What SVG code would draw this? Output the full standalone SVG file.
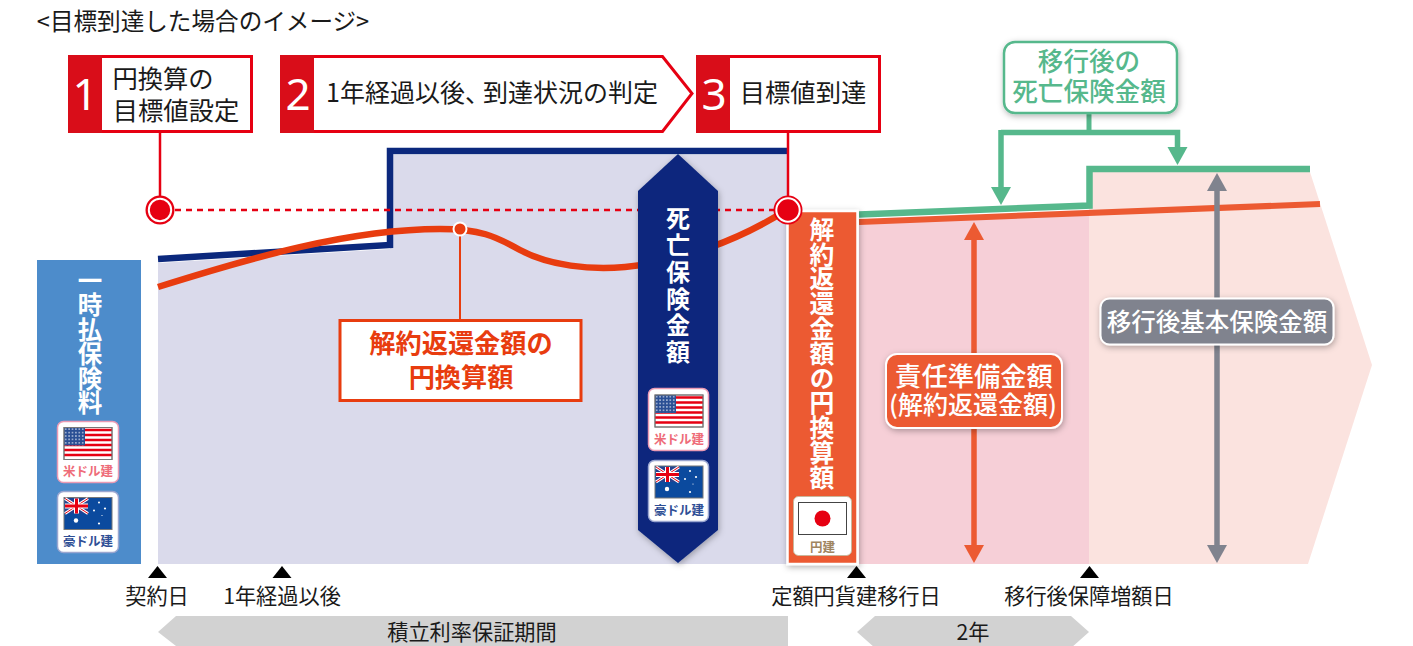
<svg xmlns="http://www.w3.org/2000/svg" width="1413" height="646" viewBox="0 0 1413 646">
<style>
text{font-family:"Noto Sans CJK JP","Noto Sans",sans-serif;fill:#1a1a1a;text-anchor:middle}
.t25{font-size:25.300px}.t21{font-size:21.200px}
.num{font-size:44px;fill:#fff;font-family:"Noto Sans","Noto Sans CJK JP",sans-serif}
.box{fill:#fff;stroke:#e60012;stroke-width:3}
.sq{fill:#d90d19}
.vert{writing-mode:vertical-rl;font-weight:700;fill:#fff;font-size:24.500px}
.card{fill:#fff;stroke-width:1.5}
.cl{font-size:12.500px;font-weight:700}
.tri{fill:#000}
.band{fill:#d2d2d2}
.w{fill:#fff;font-weight:500}
</style>
<defs>
<filter id="sh" x="-20%" y="-20%" width="140%" height="140%"><feDropShadow dx="1" dy="2" stdDeviation="3" flood-color="#000" flood-opacity=".3"/></filter>
<marker id="hG" markerUnits="userSpaceOnUse" markerWidth="20" markerHeight="22" refX="2" refY="11" orient="auto"><path d="M0,1 L18,11 L0,21Z" fill="#56b88c"/></marker>
<marker id="hO" markerUnits="userSpaceOnUse" markerWidth="20" markerHeight="22" refX="2" refY="11" orient="auto"><path d="M0,1 L18,11 L0,21Z" fill="#ec5a32"/></marker>
<marker id="hA" markerUnits="userSpaceOnUse" markerWidth="20" markerHeight="22" refX="2" refY="11" orient="auto"><path d="M0,1 L18,11 L0,21Z" fill="#80838e"/></marker>
<pattern id="st" width="3.4" height="3.4" patternUnits="userSpaceOnUse"><rect width="3.4" height="3.4" fill="#2a4f94"/><circle cx="1.7" cy="1.7" r=".8" fill="#c9d3e6"/></pattern>
<g id="us">
<rect width="48" height="32" fill="#fff" stroke="#777" stroke-width="1"/>
<path d="M0,2.500H48M0,7.500H48M0,12.500H48M0,17.500H48M0,22.500H48M0,27.500H48" stroke="#e60012" stroke-width="2.600"/>
<rect x="0" y="0" width="21" height="18" fill="url(#st)"/>
<rect width="48" height="32" fill="none" stroke="#777" stroke-width="1"/>
</g>
<g id="au">
<rect width="48" height="32" fill="#0b4a9e" stroke="#777" stroke-width="1"/>
<rect x="1" y="1" width="23" height="15" fill="#26418f"/>
<path d="M1,1L24,16M24,1L1,16" stroke="#fff" stroke-width="3"/>
<path d="M1,1L24,16M24,1L1,16" stroke="#e60012" stroke-width="1"/>
<path d="M12.500,1V16M1,8.500H24" stroke="#fff" stroke-width="5"/>
<path d="M12.500,1V16M1,8.500H24" stroke="#e60012" stroke-width="3"/>
<g fill="#fff"><circle cx="12" cy="23" r="2.200"/><circle cx="35" cy="5" r="1"/><circle cx="41" cy="11" r="1.100"/><circle cx="30" cy="13" r="1"/><circle cx="38" cy="18" r=".6"/><circle cx="35" cy="26" r="1.100"/></g>
</g>
</defs>

<text x="203" y="30" style="font-size:23.600px">&lt;目標到達した場合のイメージ&gt;</text>

<g id="areas">
<path d="M158,263 L390,249 L390,155 L788,155 L788,564 L158,564Z" fill="#dadaeb"/>
<path d="M859,222 L1089,212 L1089,564 L859,564Z" fill="#f6cfd7"/>
<path d="M1089,172 L1310,172 L1372,365 L1308,564 L1089,564Z" fill="#fbe3df"/>
</g>

<g id="connectors" fill="none">
<path d="M158,259 L390,245 L390,151 L788,151" stroke="#0b287d" stroke-width="6.500"/>
<path d="M160,132 V200" stroke="#e60012" stroke-width="2.500"/>
<path d="M788,132 V200" stroke="#e60012" stroke-width="2.500"/>
<path d="M175,210 H776" stroke="#e60012" stroke-width="2.500" stroke-dasharray="6 5"/>
<path d="M460,235 V320" stroke="#e83c0f" stroke-width="2"/>
<path d="M158,287 C250,258 350,229 440,229 C480,229 495,236 520,250 C550,266 590,270 625,267 C680,262 740,240 788,209" stroke="#e83c0f" stroke-width="6.500"/>
<path d="M859,214.500 L1089.500,205.500 L1089.500,169 L1310,169" stroke="#56b88c" stroke-width="6.500"/>
<path d="M859,222 L1320,204" stroke="#ec5a32" stroke-width="6"/>
<path d="M1089,113 V132" stroke="#56b88c" stroke-width="5"/>
<path d="M1001,132.500 H1177.500 V149" stroke="#56b88c" stroke-width="5.500" marker-end="url(#hG)"/>
<path d="M1001,130 V189" stroke="#56b88c" stroke-width="5.500" marker-end="url(#hG)"/>
<path d="M974,300 V238" stroke="#ec5a32" stroke-width="5.500" marker-end="url(#hO)"/>
<path d="M974,300 V547" stroke="#ec5a32" stroke-width="5.500" marker-end="url(#hO)"/>
<path d="M1217,300 V189" stroke="#80838e" stroke-width="5.500" marker-end="url(#hA)"/>
<path d="M1217,300 V547" stroke="#80838e" stroke-width="5.500" marker-end="url(#hA)"/>
</g>

<g id="dot-start"><circle cx="160" cy="210" r="14.500" fill="#e60012"/><circle cx="160" cy="210" r="11.200" fill="none" stroke="#fff" stroke-width="2"/></g>
<g id="dot-mid"><circle cx="460" cy="229" r="7.500" fill="#fff"/><circle cx="460" cy="229" r="5.500" fill="#e83c0f"/></g>

<g id="step1"><rect class="box" x="69.500" y="56.500" width="182" height="75"/><rect class="sq" x="68" y="55" width="34" height="78"/><text class="num" x="85" y="110">1</text><text class="t25" x="163" y="88">円換算の</text><text class="t25" x="176" y="120">目標値設定</text></g>
<g id="step2"><path class="box" d="M281.500,56.500 H662.500 L692,93.500 L662.500,131.500 H281.500Z"/><rect class="sq" x="280" y="55" width="34" height="78"/><text class="num" x="298" y="110">2</text><text class="t25" x="492" y="102" style="font-size:25px">1年経過以後、<tspan dx="-7">到達状況の判定</tspan></text></g>
<g id="step3"><rect class="box" x="697.500" y="56.500" width="182" height="75"/><rect class="sq" x="696" y="55" width="34" height="78"/><text class="num" x="714" y="110">3</text><text class="t25" x="803" y="102">目標値到達</text></g>

<g id="premium"><rect x="37" y="260" width="104" height="304" fill="#4d8ccb"/>
<text class="vert" x="90" y="268" style="text-anchor:start">一時払保険料</text>
<rect class="card" x="57.500" y="421.500" width="61" height="61" rx="6" stroke="#ea9ab4"/><use href="#us" x="64" y="427.500"/><text class="cl" x="88" y="476" style="fill:#ee6c78">米ドル建</text>
<rect class="card" x="57.500" y="491.500" width="61" height="61" rx="6" stroke="#9aa6d0"/><use href="#au" x="64" y="497.500"/><text class="cl" x="88" y="546" style="fill:#2f4f95">豪ドル建</text>
</g>

<g id="death"><path d="M678,154 L718,191 V530 L678,563 L638,530 V191Z" fill="#0b287d" filter="url(#sh)"/>
<text class="vert" x="678" y="206" style="text-anchor:start;letter-spacing:2.800px;font-size:24px">死亡保険金額</text>
<rect class="card" x="648.500" y="388.500" width="60" height="62" rx="6" stroke="#ea9ab4"/><use href="#us" x="655" y="395"/><text class="cl" x="679" y="444" style="fill:#ee6c78">米ドル建</text>
<rect class="card" x="648.500" y="460.500" width="60" height="61" rx="6" stroke="#9aa6d0"/><use href="#au" x="655" y="466"/><text class="cl" x="679" y="515" style="fill:#2f4f95">豪ドル建</text>
</g>

<g id="surrender-jpy"><rect x="787.500" y="211" width="70" height="353" fill="#ec5a32" stroke="#fff" stroke-width="2.500" filter="url(#sh)"/>
<text class="vert" x="822" y="217" style="text-anchor:start;font-size:24.800px">解約返還金額の円換算額</text>
<rect x="793.500" y="496.500" width="58" height="59" rx="5" fill="#fff" stroke="#c9b79c"/><rect x="798.500" y="502.500" width="48" height="32" fill="#fff" stroke="#444" stroke-width="1"/><circle cx="822.500" cy="518.500" r="8" fill="#e60012"/><text class="cl" x="822.500" y="552" style="fill:#a08560">円建</text>
</g>

<g id="dot-end"><circle cx="788" cy="210" r="14.500" fill="#e60012"/><circle cx="788" cy="210" r="11.700" fill="none" stroke="#fff" stroke-width="2"/></g>

<g id="label-surrender"><rect x="340" y="320.500" width="241" height="80" fill="#fff" stroke="#e83c0f" stroke-width="3"/><text x="461" y="353" style="font-size:26.200px;fill:#e83c0f;font-weight:700">解約返還金額の</text><text x="461" y="387" style="font-size:26.200px;fill:#e83c0f;font-weight:700">円換算額</text></g>

<g id="label-death-after"><rect x="1004" y="42" width="173" height="71" rx="11" fill="#fff" stroke="#56b88c" stroke-width="2.500" filter="url(#sh)"/><text x="1089" y="71" style="font-size:25.600px;fill:#56b88c;font-weight:500">移行後の</text><text x="1089" y="101" style="font-size:25.600px;fill:#56b88c;font-weight:500">死亡保険金額</text></g>

<g id="label-reserve"><rect x="886" y="354" width="176" height="74" rx="11" fill="#ec5a32" stroke="#fff" stroke-width="2" filter="url(#sh)"/><text class="w" x="974" y="386" style="font-size:26.300px">責任準備金額</text><text class="w" x="973" y="414" style="font-size:25px">(解約返還金額)</text></g>

<g id="label-basic"><rect x="1100.500" y="298.500" width="233" height="46" rx="9" fill="#80838e" stroke="#fff" stroke-width="2" filter="url(#sh)"/><text class="w" x="1217" y="331" style="font-size:24.500px">移行後基本保険金額</text></g>

<g id="tick-contract"><path class="tri" d="M157.500,566 L167,578 H148Z"/><text class="t21" x="157" y="604">契約日</text></g>
<g id="tick-year1"><path class="tri" d="M282,566 L291.500,578 H272.500Z"/><text class="t21" x="282" y="604">1年経過以後</text></g>
<g id="tick-fixed"><path class="tri" d="M856.500,566 L866,578 H847Z"/><text class="t21" x="856" y="604">定額円貨建移行日</text></g>
<g id="tick-increase"><path class="tri" d="M1089.500,566 L1099,578 H1080Z"/><text class="t21" x="1089" y="604">移行後保障増額日</text></g>

<g id="period-guarantee"><path class="band" d="M158,632 L176,616 H788 V646 H176Z"/><text class="t21" x="472" y="640">積立利率保証期間</text></g>
<g id="period-2y"><path class="band" d="M857,632 L875,616 H1071 L1089,632 L1071,648 H875Z"/><text class="t21" x="973" y="640">2年</text></g>
</svg>
